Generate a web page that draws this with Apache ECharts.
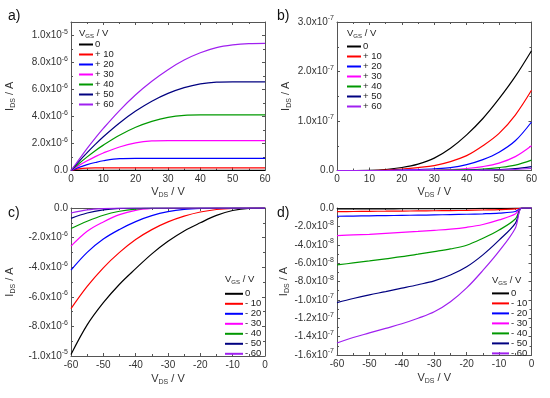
<!DOCTYPE html>
<html><head><meta charset="utf-8">
<script src="https://cdn.jsdelivr.net/npm/echarts@6/dist/echarts.min.js"></script>
<style>html,body{margin:0;padding:0;background:#fff}#c{width:550px;height:398px}</style>
</head><body><div id="c"></div>
<script>
// ---------- DATA ----------
const colors = ['#000000', '#ff0000', '#0000ff', '#ff00ff', '#009900', '#000080', '#a020f0'];
const legendPos = ['0', '+ 10', '+ 20', '+ 30', '+ 40', '+ 50', '+ 60'];
const legendNeg = ['0', '- 10', '- 20', '- 30', '- 40', '- 50', '- 60'];

// panel a (x: V_DS, y: I_DS in units of 1e-6 A)
const xA = [0, 2.5, 5, 7.5, 10, 15, 20, 25, 30, 35, 40, 45, 50, 55, 60];
const a0  = [0, 0.005, 0.01, 0.01, 0.01, 0.01, 0.01, 0.01, 0.01, 0.01, 0.01, 0.01, 0.01, 0.01, 0.01];
const a10 = [0, 0.12, 0.18, 0.2, 0.2, 0.2, 0.2, 0.2, 0.2, 0.2, 0.2, 0.2, 0.2, 0.2, 0.2];
const a20 = [0, 0.23, 0.43, 0.59, 0.72, 0.875, 0.9, 0.9, 0.9, 0.9, 0.9, 0.9, 0.9, 0.9, 0.9];
const a30 = [0, 0.38, 0.72, 1.03, 1.30, 1.74, 2.04, 2.19, 2.22, 2.22, 2.22, 2.22, 2.22, 2.22, 2.22];
const a40 = [0, 0.52, 1.01, 1.47, 1.88, 2.61, 3.2, 3.64, 3.94, 4.09, 4.12, 4.12, 4.12, 4.12, 4.12];
const a50 = [0, 0.68, 1.32, 1.93, 2.5, 3.52, 4.4, 5.13, 5.71, 6.14, 6.42, 6.55, 6.57, 6.57, 6.57];
const a60 = [0, 0.82, 1.64, 2.4, 3.12, 4.44, 5.61, 6.61, 7.47, 8.18, 8.72, 9.1, 9.3, 9.4, 9.42];

// panel b (y in units of 1e-7 A)
const xB = [0, 10, 15, 20, 25, 30, 35, 40, 45, 50, 55, 60];
const b0  = [0, 0.005, 0.02, 0.06, 0.13, 0.25, 0.45, 0.72, 1.05, 1.45, 1.9, 2.42];
const b10 = [0, 0, 0.01, 0.03, 0.06, 0.1, 0.18, 0.3, 0.5, 0.75, 1.12, 1.62];
const b20 = [0, 0, 0, 0.01, 0.02, 0.035, 0.06, 0.12, 0.22, 0.37, 0.6, 0.98];
const b30 = [0, 0, 0, 0, 0.005, 0.01, 0.02, 0.04, 0.08, 0.15, 0.28, 0.5];
const b40 = [0, 0, 0, 0, 0, 0.005, 0.01, 0.015, 0.03, 0.06, 0.11, 0.21];
const b50 = [0, 0, 0, 0, 0, 0, 0, 0.005, 0.01, 0.02, 0.04, 0.08];
const b60 = [0, 0, 0, 0, 0, 0, 0, 0, 0.005, 0.01, 0.02, 0.04];

// panel c (y in units of 1e-6 A)
const xC = [-60, -55, -50, -45, -40, -35, -30, -25, -20, -15, -10, -5, 0];
const c0  = [-9.9, -7.9, -6.4, -5.15, -4.1, -3.1, -2.25, -1.55, -1.0, -0.5, -0.17, -0.02, 0];
const c10 = [-6.8, -5.3, -4.04, -3.0, -2.13, -1.46, -0.94, -0.55, -0.27, -0.1, -0.02, 0, 0];
const c20 = [-4.2, -3.0, -2.1, -1.45, -0.92, -0.52, -0.25, -0.09, -0.02, 0, 0, 0, 0];
const c30 = [-2.58, -1.57, -0.94, -0.45, -0.16, -0.03, 0, 0, 0, 0, 0, 0, 0];
const c40 = [-1.39, -0.9, -0.49, -0.22, -0.07, -0.01, 0, 0, 0, 0, 0, 0, 0];
const c50 = [-0.7, -0.34, -0.13, -0.03, 0, 0, 0, 0, 0, 0, 0, 0, 0];
const c60 = [-0.34, -0.13, -0.04, -0.01, 0, 0, 0, 0, 0, 0, 0, 0, 0];

// panel d (y in units of 1e-8 A)
const xD = [-60, -55, -50, -45, -40, -35, -30, -25, -20, -15, -10, -5, -3, 0];
const d0  = [-0.1, -0.1, -0.1, -0.1, -0.08, -0.08, -0.08, -0.06, -0.06, -0.05, -0.04, -0.02, 0, 0];
const d10 = [-0.4, -0.38, -0.36, -0.35, -0.33, -0.32, -0.3, -0.28, -0.26, -0.22, -0.18, -0.1, 0, 0];
const d20 = [-0.9, -0.88, -0.85, -0.83, -0.8, -0.78, -0.75, -0.72, -0.68, -0.63, -0.55, -0.38, 0, 0];
const d30 = [-3.0, -2.93, -2.86, -2.76, -2.65, -2.55, -2.43, -2.3, -2.1, -1.8, -1.3, -0.65, 0, 0];
const d40 = [-6.2, -5.98, -5.76, -5.53, -5.3, -5.03, -4.75, -4.45, -4.05, -3.3, -2.4, -1.2, 0, 0];
const d50 = [-10.3, -9.85, -9.45, -9.1, -8.73, -8.35, -7.93, -7.3, -6.4, -5.1, -3.5, -1.67, 0, 0];
const d60 = [-14.7, -14.1, -13.6, -13.1, -12.6, -12.0, -11.3, -10.2, -8.7, -6.8, -4.7, -2.2, 0, 0];

// tick labels
const xTicksPos = [0, 10, 20, 30, 40, 50, 60];
const xLabelsPos = ['0', '10', '20', '30', '40', '50', '60'];
const xTicksNeg = [-60, -50, -40, -30, -20, -10, 0];
const xLabelsNeg = ['-60', '-50', '-40', '-30', '-20', '-10', '0'];
const yTicksA = [0, 2e-6, 4e-6, 6e-6, 8e-6, 1e-5];
const yLabelsA = ['0.0', '2.0x10^-6', '4.0x10^-6', '6.0x10^-6', '8.0x10^-6', '1.0x10^-5'];
const yTicksB = [0, 1e-7, 2e-7, 3e-7];
const yLabelsB = ['0.0', '1.0x10^-7', '2.0x10^-7', '3.0x10^-7'];
const yTicksC = [-1e-5, -8e-6, -6e-6, -4e-6, -2e-6, 0];
const yLabelsC = ['-1.0x10^-5', '-8.0x10^-6', '-6.0x10^-6', '-4.0x10^-6', '-2.0x10^-6', '0.0'];
const yTicksD = [-1.6e-7, -1.4e-7, -1.2e-7, -1e-7, -8e-8, -6e-8, -4e-8, -2e-8, 0];
const yLabelsD = ['-1.6x10^-7', '-1.4x10^-7', '-1.2x10^-7', '-1.0x10^-7', '-8.0x10^-8', '-6.0x10^-8', '-4.0x10^-8', '-2.0x10^-8', '0.0'];

// ---------- BUILD ----------
const FONT = '"Liberation Sans", Arial, sans-serif';
const TXT = '#333';
function sup(s) {
  const i = s.indexOf('^');
  if (i < 0) return '{n|' + s + '}';
  return '{n|' + s.slice(0, i) + '}{e|' + s.slice(i + 1) + '}';
}
const labelRich = {
  n: { fontSize: 10, color: TXT, fontFamily: FONT, fontWeight: 'normal' },
  e: { fontSize: 7, color: TXT, fontFamily: FONT, fontWeight: 'normal', padding: [0, 0, 7, 0] }
};
function fmt(ticks, labels, tol) {
  return function (v) {
    for (let i = 0; i < ticks.length; i++) if (Math.abs(v - ticks[i]) < tol) return sup(labels[i]);
    return '';
  };
}
const nameRich = {
  n: { fontSize: 11, color: TXT, fontFamily: FONT, fontWeight: 'normal' },
  s: { fontSize: 7, color: TXT, fontFamily: FONT, fontWeight: 'normal', padding: [7, 0, 0, 0] }
};
const axLine = { show: true, onZero: false, lineStyle: { color: '#555', width: 1 } };
const tick = { inside: true, length: 3, lineStyle: { color: '#555' } };
const minor = { show: true, splitNumber: 2, length: 2, lineStyle: { color: '#555' } };

const xAxes = [], yAxes = [];
function addAxes(g, xmin, xmax, xint, xt, xl, ymin, ymax, yint, yt, yl, yGap, xGap) {
  xAxes.push({
    type: 'value', gridIndex: g, min: xmin, max: xmax, interval: xint, position: 'bottom',
    axisLine: axLine, axisTick: tick, minorTick: minor, splitLine: { show: false },
    axisLabel: { margin: 4, formatter: fmt(xt, xl, xint * 1e-3), rich: labelRich },
    name: '{n|V}{s|DS}{n| / V}', nameLocation: 'middle', nameGap: xGap,
    nameTextStyle: { rich: nameRich }
  });
  xAxes.push({
    type: 'value', gridIndex: g, min: xmin, max: xmax, interval: xint, position: 'top',
    axisLine: axLine, axisTick: tick, minorTick: minor, splitLine: { show: false }, axisLabel: { show: false }
  });
  yAxes.push({
    type: 'value', gridIndex: g, min: ymin, max: ymax, interval: yint, position: 'left',
    axisLine: axLine, axisTick: tick, minorTick: minor, splitLine: { show: false },
    axisLabel: { margin: 3, formatter: fmt(yt, yl, Math.abs(yint) * 1e-3), rich: labelRich },
    name: '{n|I}{s|DS}{n| / A}', nameLocation: 'middle', nameGap: yGap, nameRotate: 90,
    nameTextStyle: { rich: nameRich }
  });
  yAxes.push({
    type: 'value', gridIndex: g, min: ymin, max: ymax, interval: yint, position: 'right',
    axisLine: axLine, axisTick: tick, minorTick: minor, splitLine: { show: false }, axisLabel: { show: false }
  });
}
addAxes(0, 0, 60, 10, xTicksPos, xLabelsPos, 0, 1.1e-5, 2e-6, yTicksA, yLabelsA, 54, 14);
addAxes(1, 0, 60, 10, xTicksPos, xLabelsPos, 0, 3e-7, 1e-7, yTicksB, yLabelsB, 44, 14);
addAxes(2, -60, 0, 10, xTicksNeg, xLabelsNeg, -1e-5, 0, 2e-6, yTicksC, yLabelsC, 54, 16);
addAxes(3, -60, 0, 10, xTicksNeg, xLabelsNeg, -1.6e-7, 0, 2e-8, yTicksD, yLabelsD, 44, 16);

const series = [];
const legendLabel = {};
function addSeries(g, prefix, xs, ysList, scale, labels) {
  ysList.forEach((ys, i) => {
    const name = prefix + i;
    legendLabel[name] = labels[i];
    series.push({
      type: 'line', name: name, xAxisIndex: g * 2, yAxisIndex: g * 2,
      data: xs.map((x, k) => [x, ys[k] * scale]),
      showSymbol: false, symbol: 'none', smooth: 0.35,
      color: colors[i], lineStyle: { width: 1.2, color: colors[i] },
      animation: false
    });
  });
}
addSeries(0, 'a', xA, [a0, a10, a20, a30, a40, a50, a60], 1e-6, legendPos);
addSeries(1, 'b', xB, [b0, b10, b20, b30, b40, b50, b60], 1e-7, legendPos);
addSeries(2, 'c', xC, [c0, c10, c20, c30, c40, c50, c60], 1e-6, legendNeg);
addSeries(3, 'd', xD, [d0, d10, d20, d30, d40, d50, d60], 1e-8, legendNeg);

function legend(prefix, left, top, lh, iw) {
  return {
    data: [0, 1, 2, 3, 4, 5, 6].map(i => prefix + i), orient: 'vertical', left: left, top: top,
    padding: 0, itemGap: 0, itemWidth: iw, itemHeight: 2, icon: 'rect', selectedMode: false,
    formatter: n => legendLabel[n],
    textStyle: { fontSize: 9.5, color: '#222', fontFamily: FONT, fontWeight: 'normal', lineHeight: lh, padding: [0, 0, 0, -3] }
  };
}
const hdrRich = {
  n: { fontSize: 9.5, color: '#222', fontFamily: FONT, fontWeight: 'normal' },
  s: { fontSize: 6, color: '#222', fontFamily: FONT, fontWeight: 'normal', padding: [5, 0, 0, 0] }
};
function header(left, top) {
  return { text: '{n|V}{s|GS}{n| / V}', left: left, top: top, padding: 0, textStyle: { fontWeight: 'normal', rich: hdrRich } };
}
function plab(t, left, top) {
  return { text: t, left: left, top: top, padding: 0, textStyle: { fontSize: 14, fontWeight: 'normal', color: '#111', fontFamily: FONT } };
}

const option = {
  animation: false,
  grid: [
    { left: 71, top: 22, width: 194, height: 148.5 },
    { left: 337, top: 22, width: 194.5, height: 148.5 },
    { left: 71, top: 208, width: 194, height: 148 },
    { left: 337, top: 208, width: 194.5, height: 147 }
  ],
  title: [
    plab('a)', 8, 9), plab('b)', 277, 9), plab('c)', 8, 206), plab('d)', 277, 206),
    header(79, 28), header(347, 28), header(225, 274), header(492, 275)
  ],
  legend: [
    legend('a', 79, 39.5, 8.5, 14),
    legend('b', 347, 41.5, 8.3, 14),
    legend('c', 225, 288.8, 9.4, 18),
    legend('d', 492, 288.4, 9.3, 17)
  ],
  xAxis: xAxes, yAxis: yAxes, series: series
};
const chart = echarts.init(document.getElementById('c'), null, { renderer: 'canvas' });
chart.setOption(option);
</script></body></html>
